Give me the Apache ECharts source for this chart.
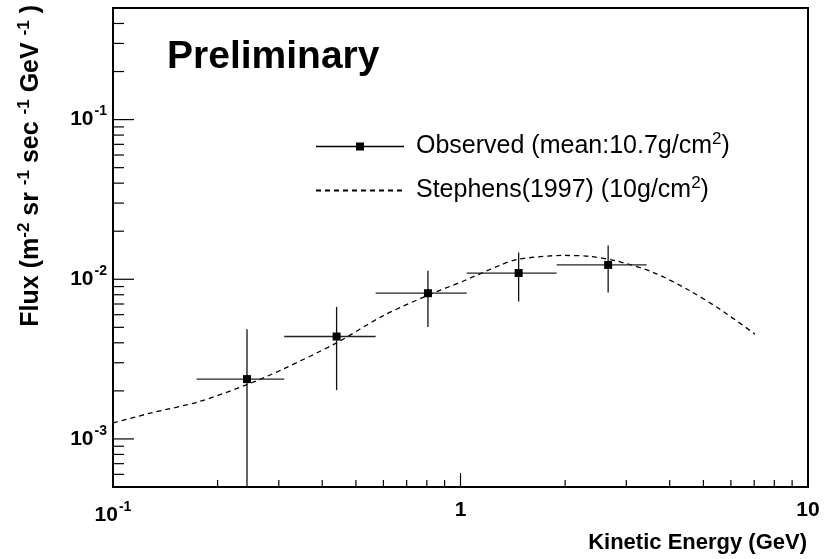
<!DOCTYPE html>
<html>
<head>
<meta charset="utf-8">
<script src="https://cdn.jsdelivr.net/npm/echarts@6/dist/echarts.min.js"></script>
<style>html,body{margin:0;padding:0;background:#fff}#c{width:828px;height:559px}</style>
</head>
<body>
<div id="c"></div>
<script>
// ---- data ----
var obsName = 'Observed (mean:10.7g/cm²)';
var stephName = 'Stephens(1997) (10g/cm²)';
var obsEnergy = [0.243, 0.44, 0.806, 1.47, 2.66];
var obsEnergyLo = [0.174, 0.311, 0.570, 1.042, 1.891];
var obsEnergyHi = [0.311, 0.570, 1.042, 1.891, 3.434];
var obsFlux = [2.37e-3, 4.38e-3, 8.18e-3, 1.094e-2, 1.23e-2];
var obsFluxLo = [0, 2.02e-3, 5.03e-3, 7.26e-3, 8.26e-3];
var obsFluxHi = [4.87e-3, 6.71e-3, 1.13e-2, 1.47e-2, 1.63e-2];
var stephEnergy = [0.1, 0.128, 0.178, 0.243, 0.309, 0.44, 0.598, 0.806, 1.016, 1.30, 1.46, 1.97, 2.36, 2.82, 3.58, 4.49, 5.58, 7.04];
var stephFlux = [1.26e-3, 1.45e-3, 1.72e-3, 2.19e-3, 2.74e-3, 4.0e-3, 5.9e-3, 7.94e-3, 9.72e-3, 1.224e-2, 1.333e-2, 1.41e-2, 1.39e-2, 1.30e-2, 1.106e-2, 8.66e-3, 6.49e-3, 4.53e-3];
var xMin = 0.1, xMax = 10, yMin = 5e-4, yMax = 0.5;
var xMajorTicks = [1];
var xMinorTicks = [0.2, 0.3, 0.4, 0.5, 0.6, 0.7, 0.8, 0.9, 2, 3, 4, 5, 6, 7, 8, 9];
var yMajorTicks = [1e-3, 1e-2, 1e-1];
var yMinorTicks = [6e-4, 7e-4, 8e-4, 9e-4, 2e-3, 3e-3, 4e-3, 5e-3, 6e-3, 7e-3, 8e-3, 9e-3, 2e-2, 3e-2, 4e-2, 5e-2, 6e-2, 7e-2, 8e-2, 9e-2, 0.2, 0.3, 0.4];

var FONT = '"Liberation Sans", Arial, Helvetica, sans-serif';

function powLabel(v) {
  var l = Math.log(v) / Math.LN10;
  var e = Math.round(l);
  if (Math.abs(l - e) > 1e-6) return '';
  if (e === 0) return '{b|1}';
  if (e === 1) return '{b|10}';
  return '{b|10}{sup|' + e + '}';
}
function supText(s) { return s.replace('²', '{sup|2}'); }

var labelRich = {
  b: {fontSize: 21, fontWeight: 'bold', fontFamily: FONT, color: '#000', verticalAlign: 'middle'},
  sup: {fontSize: 14, fontWeight: 'bold', fontFamily: FONT, color: '#000', verticalAlign: 'middle', padding: [0, 0, 16, 1]}
};

var tickData = [];
xMajorTicks.forEach(function (v) { tickData.push(['x', v, 14]); });
xMinorTicks.forEach(function (v) { tickData.push(['x', v, 7]); });
yMajorTicks.forEach(function (v) { tickData.push(['y', v, 21]); });
yMinorTicks.forEach(function (v) { tickData.push(['y', v, 11]); });

var errData = obsEnergy.map(function (x, i) {
  return [x, obsFlux[i], obsEnergyLo[i], obsEnergyHi[i], obsFluxLo[i], obsFluxHi[i]];
});

var chart = echarts.init(document.getElementById('c'), null, {renderer: 'canvas'});
chart.setOption({
  animation: false,
  backgroundColor: '#fff',
  grid: {left: 113, right: 20, top: 8, bottom: 72, show: true, borderColor: '#000', borderWidth: 2, backgroundColor: 'transparent'},
  xAxis: {
    type: 'log', logBase: 10, min: xMin, max: xMax,
    axisLine: {show: false}, axisTick: {show: false}, splitLine: {show: false}, minorTick: {show: false},
    axisLabel: {margin: 13, formatter: powLabel, rich: labelRich}
  },
  yAxis: {
    type: 'log', logBase: 10, min: yMin, max: yMax,
    axisLine: {show: false}, axisTick: {show: false}, splitLine: {show: false}, minorTick: {show: false},
    axisLabel: {margin: 6, formatter: powLabel, rich: labelRich}
  },
  legend: {
    orient: 'vertical', left: 315, top: 131, padding: 0, itemWidth: 88, itemHeight: 10, itemGap: 16,
    selectedMode: false,
    data: [
      {name: obsName, lineStyle: {width: 1.3, opacity: 1, color: '#000', type: 'solid'}},
      {name: stephName, itemStyle: {opacity: 0}}
    ],
    formatter: supText,
    textStyle: {
      fontSize: 25, fontFamily: FONT, color: '#000', padding: [0, 0, 0, 7],
      rich: {sup: {fontSize: 17, fontFamily: FONT, color: '#000', verticalAlign: 'middle', padding: [0, 0, 14, 0]}}
    }
  },
  graphic: [
    {type: 'text', left: 167, top: 38, style: {text: 'Preliminary', font: 'bold 39px ' + FONT, fill: '#000'}},
    {type: 'text', x: 807, y: 543, style: {text: 'Kinetic Energy (GeV)', font: 'bold 22px ' + FONT, fill: '#000', textAlign: 'right', textVerticalAlign: 'middle'}},
    {type: 'text', x: 31, y: 5, rotation: Math.PI / 2,
      style: {
        text: 'Flux (m{sup|-2} sr {sup|-1} sec {sup|-1} GeV {sup|-1} )',
        font: 'bold 25px ' + FONT, fill: '#000', textAlign: 'right', textVerticalAlign: 'middle',
        rich: {sup: {font: 'bold 17px ' + FONT, fill: '#000', verticalAlign: 'middle', padding: [0, 0, 14, 0]}}
      }}
  ],
  series: [
    {
      type: 'custom', name: 'ticks', silent: true, z: 1,
      data: tickData,
      renderItem: function (params, api) {
        var cs = params.coordSys;
        var d = tickData[params.dataIndex];
        var len = d[2];
        if (d[0] === 'x') {
          var p = api.coord([d[1], yMin]);
          return {type: 'line', shape: {x1: p[0], y1: cs.y + cs.height, x2: p[0], y2: cs.y + cs.height - len}, style: {stroke: '#000', lineWidth: 1.2}};
        } else {
          var q = api.coord([xMin, d[1]]);
          return {type: 'line', shape: {x1: cs.x, y1: q[1], x2: cs.x + len, y2: q[1]}, style: {stroke: '#000', lineWidth: 1.2}};
        }
      }
    },
    {
      type: 'line', name: stephName, data: stephEnergy.map(function (x, i) { return [x, stephFlux[i]]; }),
      smooth: 0.3, symbol: 'none', z: 2,
      lineStyle: {color: '#000', width: 1.3, type: [5, 4]}, itemStyle: {color: '#000'}
    },
    {
      type: 'custom', name: 'errors', silent: true, z: 3,
      data: errData,
      renderItem: function (params, api) {
        var cs = params.coordSys;
        var c = api.coord([api.value(0), api.value(1)]);
        var xl = api.coord([api.value(2), api.value(1)])[0];
        var xh = api.coord([api.value(3), api.value(1)])[0];
        var lo = api.value(4);
        var yl = lo > 0 ? api.coord([api.value(0), lo])[1] : cs.y + cs.height;
        if (yl > cs.y + cs.height) yl = cs.y + cs.height;
        var yh = api.coord([api.value(0), api.value(5)])[1];
        return {type: 'group', children: [
          {type: 'line', shape: {x1: xl, y1: c[1], x2: xh, y2: c[1]}, style: {stroke: '#222', lineWidth: 1.3}},
          {type: 'line', shape: {x1: c[0], y1: yl, x2: c[0], y2: yh}, style: {stroke: '#111', lineWidth: 1.3}}
        ]};
      }
    },
    {
      type: 'line', name: obsName, data: obsEnergy.map(function (x, i) { return [x, obsFlux[i]]; }),
      symbol: 'rect', symbolSize: 8, z: 4,
      lineStyle: {width: 0, opacity: 0, color: '#000'}, itemStyle: {color: '#000'}
    }
  ]
});
</script>
</body>
</html>
